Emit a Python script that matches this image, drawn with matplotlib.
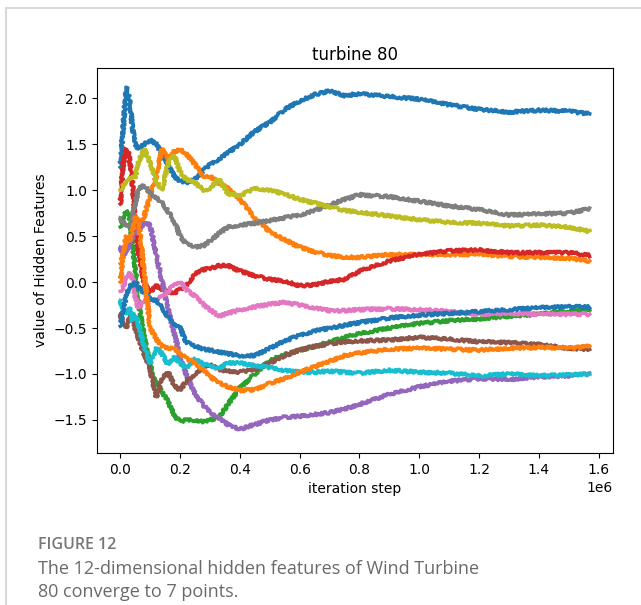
import numpy as np
import matplotlib
matplotlib.use("Agg")
import matplotlib.pyplot as plt
from matplotlib.lines import Line2D

# iteration step (in millions)
steps_m = [0, 0.01, 0.02, 0.03, 0.04, 0.05, 0.06, 0.08, 0.10, 0.12, 0.14, 0.16, 0.18,
           0.20, 0.22, 0.25, 0.28, 0.30, 0.33, 0.36, 0.40, 0.45, 0.50, 0.55, 0.60,
           0.65, 0.70, 0.75, 0.80, 0.90, 1.00, 1.10, 1.20, 1.30, 1.40, 1.50, 1.57]

# hidden feature values (plot order = colour order)
blue_top = [1.25, 1.7, 2.12, 2.0, 1.7, 1.5, 1.45, 1.5, 1.55, 1.5, 1.4, 1.28, 1.15,
            1.1, 1.08, 1.12, 1.22, 1.28, 1.34, 1.41, 1.5, 1.64, 1.74, 1.88, 1.97,
            2.04, 2.08, 2.03, 2.05, 2.02, 1.99, 1.93, 1.88, 1.85, 1.87, 1.86, 1.83]
orange_top = [0.2, 0.3, 0.38, 0.44, 0.47, 0.5, 0.55, 0.72, 0.95, 1.15, 1.45, 1.33, 1.42,
              1.44, 1.4, 1.28, 1.15, 1.15, 1.08, 1.02, 0.9, 0.7, 0.55, 0.46, 0.38,
              0.33, 0.29, 0.27, 0.27, 0.3, 0.3, 0.3, 0.3, 0.28, 0.27, 0.26, 0.23]
green = [0.6, 0.7, 0.78, 0.72, 0.45, 0.15, -0.2, -0.6, -0.9, -1.1, -1.2, -1.3, -1.45,
         -1.52, -1.5, -1.5, -1.52, -1.5, -1.47, -1.33, -1.15, -1.0, -0.85, -0.79, -0.74,
         -0.7, -0.65, -0.6, -0.56, -0.5, -0.45, -0.42, -0.4, -0.37, -0.35, -0.32, -0.3]
red = [0.85, 1.3, 1.45, 1.38, 1.1, 0.65, 0.35, -0.02, -0.11, -0.04, -0.08, -0.11, -0.12,
       -0.08, -0.04, 0.09, 0.14, 0.15, 0.18, 0.18, 0.12, 0.07, 0.03, 0.01, -0.04,
       -0.03, 0.01, 0.03, 0.12, 0.23, 0.30, 0.34, 0.35, 0.32, 0.32, 0.32, 0.29]
purple = [0.38, 0.3, 0.32, 0.4, 0.48, 0.52, 0.55, 0.65, 0.62, 0.3, 0.0, -0.3, -0.55,
          -0.82, -1.0, -1.22, -1.35, -1.41, -1.48, -1.55, -1.6, -1.55, -1.5, -1.47, -1.46,
          -1.44, -1.42, -1.38, -1.33, -1.22, -1.14, -1.08, -1.05, -1.06, -1.03, -1.02, -1.0]
brown = [-0.35, -0.45, -0.5, -0.4, -0.35, -0.5, -0.6, -0.78, -0.95, -1.25, -1.05, -0.98, -1.12,
         -1.18, -1.08, -1.0, -0.92, -0.9, -0.95, -0.97, -0.98, -0.95, -0.88, -0.8, -0.74,
         -0.7, -0.67, -0.65, -0.64, -0.63, -0.6, -0.62, -0.65, -0.66, -0.68, -0.72, -0.73]
pink = [-0.1, -0.05, 0.05, 0.1, 0.05, -0.15, -0.28, -0.2, -0.18, -0.2, -0.15, -0.1, -0.02,
        0.0, -0.08, -0.15, -0.25, -0.3, -0.37, -0.34, -0.3, -0.27, -0.24, -0.22, -0.25,
        -0.28, -0.31, -0.31, -0.3, -0.29, -0.3, -0.32, -0.35, -0.34, -0.35, -0.35, -0.35]
gray = [0.7, 0.65, 0.62, 0.6, 0.7, 0.85, 1.02, 1.05, 0.97, 0.92, 0.86, 0.77, 0.66,
        0.5, 0.42, 0.38, 0.4, 0.45, 0.53, 0.6, 0.62, 0.64, 0.67, 0.7, 0.73,
        0.78, 0.84, 0.9, 0.95, 0.93, 0.88, 0.83, 0.79, 0.73, 0.74, 0.75, 0.8]
olive = [1.0, 1.05, 1.1, 1.12, 1.15, 1.13, 1.3, 1.45, 1.3, 1.1, 1.0, 1.3, 1.38,
         1.2, 1.12, 1.08, 1.0, 1.02, 1.12, 0.96, 0.94, 1.02, 1.0, 0.96, 0.9,
         0.86, 0.82, 0.78, 0.76, 0.72, 0.68, 0.65, 0.64, 0.61, 0.62, 0.6, 0.55]
cyan = [-0.2, -0.3, -0.35, -0.28, -0.42, -0.35, -0.45, -0.7, -0.88, -0.72, -0.78, -0.9, -0.82,
        -0.88, -0.93, -0.84, -0.9, -0.9, -0.94, -0.88, -0.88, -0.91, -0.93, -0.96, -0.98,
        -0.98, -0.97, -0.98, -0.99, -0.96, -0.98, -0.99, -1.02, -1.0, -1.02, -1.01, -1.0]
blue_low = [-0.48, -0.3, -0.15, -0.05, -0.03, 0.0, -0.05, -0.12, -0.18, -0.2, -0.28, -0.38, -0.45,
            -0.5, -0.65, -0.7, -0.73, -0.74, -0.76, -0.78, -0.8, -0.8, -0.72, -0.64, -0.58,
            -0.53, -0.5, -0.47, -0.44, -0.39, -0.36, -0.34, -0.32, -0.3, -0.28, -0.27, -0.27]
orange_low = [0.0, 0.3, 0.5, 0.45, 0.55, 0.7, 0.7, 0.1, -0.5, -0.62, -0.7, -0.72, -0.72,
              -0.78, -0.83, -0.88, -0.96, -1.03, -1.09, -1.14, -1.18, -1.17, -1.1, -1.05, -0.98,
              -0.92, -0.86, -0.8, -0.77, -0.73, -0.72, -0.73, -0.74, -0.72, -0.71, -0.72, -0.7]

features = [blue_top, orange_top, green, red, purple, brown, pink, gray, olive, cyan,
            blue_low, orange_low]

fig = plt.figure(figsize=(6.41, 6.05), dpi=100)
ax = fig.add_axes([0.1513, 0.2512, 0.805, 0.6364])

x = np.array(steps_m) * 1e6
for f in features:
    line, = ax.plot(x, f, linewidth=2.6)
    # jagged look of the noisy training curves
    line.set_sketch_params(scale=1.4, length=2.5, randomness=3)

ax.set_xlim(-0.078e6, 1.648e6)
ax.set_ylim(-1.86, 2.33)
ax.set_title("turbine 80")
ax.set_xlabel("iteration step")
ax.set_ylabel("value of Hidden Features")

# card border and caption
fig.add_artist(Line2D([6 / 641, 1], [1 - 8 / 605, 1 - 8 / 605], color="#d8d8d8", lw=1.5))
fig.add_artist(Line2D([6 / 641, 6 / 641], [0, 1 - 8 / 605], color="#d8d8d8", lw=1.5))
fig.text(38 / 641, 1 - 545 / 605, "FIGURE 12", family="Open Sans", fontsize=11.5,
         fontweight="semibold", color="#777777", va="center")
fig.text(38 / 641, 1 - 569 / 605, "The 12-dimensional hidden features of Wind Turbine",
         family="Open Sans", fontsize=13, color="#6a6a6a", va="center")
fig.text(38 / 641, 1 - 592 / 605, "80 converge to 7 points.",
         family="Open Sans", fontsize=13, color="#6a6a6a", va="center")

fig.savefig("out.png", dpi=100)
